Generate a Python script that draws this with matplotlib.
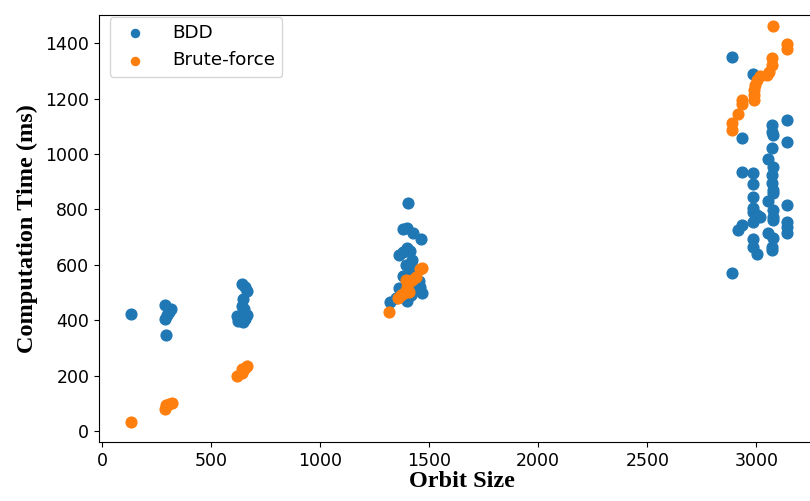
import matplotlib

matplotlib.use("Agg")
import matplotlib.pyplot as plt  # noqa: E402

# BDD timings (orbit size, ms)
bdd_x = [
    133,
    290, 300, 290, 315, 295, 305,
    640, 655, 665, 645, 640, 650, 620, 635, 665, 625, 645, 655, 640,
    1401, 1381, 1400, 1425, 1463, 1400, 1380, 1360, 1420, 1420, 1410, 1390, 1380,
    1360, 1460, 1465, 1321, 1350, 1400, 1415, 1440, 1400, 1455, 1395, 1410,
    2890, 2986, 3073, 3073, 3078, 3142, 2936, 3142, 3073, 3055, 3078, 3073, 3073,
    3078, 3078, 3055, 2936, 2986, 2986, 2986, 2986, 2986, 3005, 3018, 2986, 3078,
    3078, 3078, 3142, 3142, 3142, 3142, 2936, 2917, 2986, 2986, 3005, 3055, 3078,
    3073, 3073, 2890,
]
bdd_y = [
    422,
    455, 420, 405, 440, 345, 430,
    530, 520, 505, 475, 450, 440, 415, 410, 418, 398, 392, 405, 420,
    822, 729, 733, 715, 693, 660, 646, 635, 617, 588, 574, 556, 560,
    516, 520, 498, 466, 480, 470, 490, 510, 505, 540, 600, 650,
    1350, 1288, 1104, 1079, 1068, 1122, 1057, 1043, 1021, 982, 953, 924, 895,
    870, 859, 830, 935, 931, 891, 845, 805, 790, 780, 772, 754, 798,
    772, 761, 816, 754, 736, 715, 743, 725, 693, 664, 639, 715, 697,
    664, 653, 570,
]

# Brute-force timings (orbit size, ms)
brute_x = [
    133,
    290, 295, 305, 320,
    620, 640, 648, 655, 665, 640,
    1317, 1355, 1370, 1385, 1400, 1410, 1420, 1440, 1459, 1465, 1407, 1395,
    3078, 3142, 3142, 3073, 3073, 3060, 3050, 3018, 3005, 2995, 2990, 2990, 2990,
    2936, 2936, 2917, 2890, 2890,
]
brute_y = [
    33,
    80, 92, 97, 102,
    197, 210, 220, 228, 235, 225,
    430, 480, 490, 500, 520, 540, 545, 555, 585, 590, 502, 545,
    1462, 1397, 1380, 1346, 1321, 1296, 1285, 1281, 1267, 1249, 1231, 1213, 1195,
    1195, 1180, 1144, 1111, 1086,
]

x_ticks = [0, 500, 1000, 1500, 2000, 2500, 3000]
y_ticks = [0, 200, 400, 600, 800, 1000, 1200, 1400]

BDD_COLOR = "#1f77b4"
BRUTE_COLOR = "#ff7f0e"


def main() -> None:
    fig = plt.figure(figsize=(8.1, 5.01), dpi=100)
    ax = fig.add_axes([0.1222, 0.1178, 0.895, 0.852])

    ax.scatter(bdd_x, bdd_y, s=60, color=BDD_COLOR, label="BDD", zorder=2)
    ax.scatter(brute_x, brute_y, s=60, color=BRUTE_COLOR, label="Brute-force", zorder=3)

    ax.set_xlim(-14, 3310)
    ax.set_ylim(-40, 1502)
    ax.set_xticks(x_ticks)
    ax.set_yticks(y_ticks)
    ax.tick_params(labelsize=12.5)

    label_font = {"family": "Liberation Serif", "weight": "bold", "size": 17.5}
    ax.set_xlabel("Orbit Size", fontdict=label_font, labelpad=1)
    ax.set_ylabel("Computation Time (ms)", fontdict=label_font, labelpad=5)

    ax.legend(
        loc="upper left",
        bbox_to_anchor=(0.012, 1.0),
        fontsize=13.2,
        markerscale=0.75,
        borderaxespad=0.1,
        handletextpad=1.0,
    )

    fig.savefig("out.png", dpi=100)
    plt.close(fig)


if __name__ == "__main__":
    main()
